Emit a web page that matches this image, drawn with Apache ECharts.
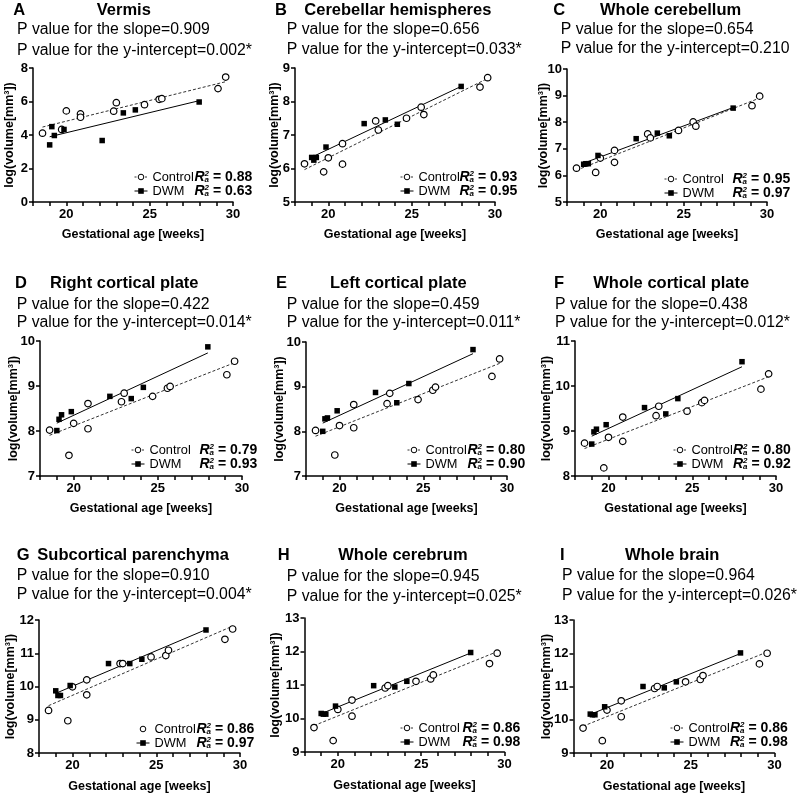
<!DOCTYPE html>
<html><head><meta charset="utf-8">
<script src="https://cdn.jsdelivr.net/npm/echarts/dist/echarts.min.js"></script>
<style>html,body{margin:0;padding:0;background:#fff}#c{width:800px;height:798px}</style>
</head><body><div id="c"></div>
<script>
// ---------- DATA ----------
const panelLetters = ['A','B','C','D','E','F','G','H','I'];
const panelTitles = ['Vermis','Cerebellar hemispheres','Whole cerebellum','Right cortical plate','Left cortical plate','Whole cortical plate','Subcortical parenchyma','Whole cerebrum','Whole brain'];
const pSlope = ['0.909','0.656','0.654','0.422','0.459','0.438','0.910','0.945','0.964'];
const pIntercept = ['0.002*','0.033*','0.210','0.014*','0.011*','0.012*','0.004*','0.025*','0.026*'];
const r2Control = ['0.88','0.93','0.95','0.79','0.80','0.80','0.86','0.86','0.86'];
const r2DWM = ['0.63','0.95','0.97','0.93','0.90','0.92','0.97','0.98','0.98'];

const ageControl = [18.57, 19.72, 20.0, 20.85, 20.85, 22.84, 23.0, 24.69, 25.57, 25.73, 29.1, 29.56];
const ageDWM = [19.0, 19.13, 19.28, 19.86, 22.15, 23.42, 24.14, 27.97];

const vermisControl = [4.11, 4.33, 5.44, 5.26, 5.06, 5.42, 5.93, 5.81, 6.13, 6.17, 6.77, 7.46];
const vermisDWM = [3.41, 4.50, 3.97, 4.33, 3.67, 5.32, 5.50, 5.97];
const cerebHemControl = [6.14, 5.90, 6.32, 6.74, 6.13, 7.42, 7.15, 7.50, 7.83, 7.61, 8.43, 8.71];
const cerebHemDWM = [6.33, 6.25, 6.33, 6.64, 7.34, 7.45, 7.32, 8.45];
const cerebellumControl = [6.27, 6.11, 6.65, 6.94, 6.49, 7.56, 7.41, 7.69, 8.01, 7.85, 8.62, 8.98];
const cerebellumDWM = [6.42, 6.44, 6.44, 6.75, 7.38, 7.59, 7.49, 8.53];
const rightCPControl = [8.02, 7.46, 8.17, 8.61, 8.05, 8.65, 8.84, 8.77, 8.95, 8.99, 9.25, 9.55];
const rightCPDWM = [8.01, 8.26, 8.36, 8.43, 8.77, 8.72, 8.97, 9.87];
const leftCPControl = [8.02, 7.47, 8.13, 8.60, 8.08, 8.62, 8.85, 8.71, 8.92, 8.99, 9.23, 9.62];
const leftCPDWM = [8.00, 8.28, 8.30, 8.46, 8.87, 8.64, 9.07, 9.83];
const wholeCPControl = [8.73, 8.18, 8.86, 9.31, 8.77, 9.34, 9.55, 9.44, 9.63, 9.68, 9.93, 10.27];
const wholeCPDWM = [8.71, 8.98, 9.04, 9.14, 9.52, 9.38, 9.72, 10.54];
const subcortControl = [9.28, 8.97, 9.99, 10.20, 9.75, 10.69, 10.69, 10.89, 10.93, 11.09, 11.42, 11.73];
const subcortDWM = [9.87, 9.73, 9.73, 10.03, 10.69, 10.69, 10.82, 11.70];
const cerebrumControl = [9.73, 9.34, 10.27, 10.55, 10.07, 10.91, 10.98, 11.11, 11.18, 11.30, 11.64, 11.95];
const cerebrumDWM = [10.15, 10.13, 10.13, 10.37, 10.98, 10.94, 11.11, 11.97];
const brainControl = [9.75, 9.37, 10.29, 10.57, 10.09, 10.94, 11.00, 11.14, 11.21, 11.33, 11.68, 12.00];
const brainDWM = [10.17, 10.15, 10.15, 10.39, 11.00, 10.96, 11.14, 12.01];

const controlSets = [vermisControl, cerebHemControl, cerebellumControl, rightCPControl, leftCPControl, wholeCPControl, subcortControl, cerebrumControl, brainControl];
const dwmSets = [vermisDWM, cerebHemDWM, cerebellumDWM, rightCPDWM, leftCPDWM, wholeCPDWM, subcortDWM, cerebrumDWM, brainDWM];

const xMin = 18, xMax = 30, xTickLabels = [20, 25, 30];
const yMins = [0, 5, 5, 7, 7, 8, 8, 9, 9];
const yMaxs = [8, 9, 10, 10, 10, 11, 12, 13, 13];
const yIntervals = [2, 1, 1, 1, 1, 1, 1, 1, 1];

// ---------- LAYOUT ----------
const gridBox = [[33,68,200,134],[295,68,200,134],[567,69,200,133],[40,341,202,135],[306,342,201,134],[575,341,201,135],[39,620,201,133],[304.5,618,200,134],[573.5,620,201,133]];
const yNameGap = [16.5, 13.5, 17, 20, 20, 22, 22, 22.5, 20];
const xNameGap = [26, 26, 26, 26, 26, 26, 27, 27, 27];
const letterX = [13.3, 275, 553.3, 15, 276, 554, 16.7, 277.7, 560];
const nameX = [96.7, 304.3, 600, 50, 330, 593.3, 37.3, 338.3, 625];
const headY = [1.5, 1.5, 1.5, 274.5, 274.5, 274.5, 546.5, 546.5, 546.5];
const pX = [17, 286.7, 560.7, 16.7, 286.7, 555, 16.7, 286.7, 562];
const pTop = [19.2, 19.5, 20, 295.3, 295.3, 295.3, 566, 567.3, 566.3];
const pLH = [20.8, 20, 19, 18, 18, 18, 19, 19.3, 19.5];
const legendBox = [[134,170,42],[400,170,41],[664,172,50],[131,443,50],[407,443,42],[673,443,41.5],[136,722,42],[400,721,44],[670,721,41.5]];

const FONT = '"Liberation Sans", Arial, Helvetica, sans-serif';

function fitLine(xs, ys) {
  const n = xs.length;
  let sx = 0, sy = 0, sxx = 0, sxy = 0;
  for (let i = 0; i < n; i++) { sx += xs[i]; sy += ys[i]; sxx += xs[i]*xs[i]; sxy += xs[i]*ys[i]; }
  const b = (n*sxy - sx*sy) / (n*sxx - sx*sx);
  const a = (sy - b*sx) / n;
  const lo = Math.min(...xs), hi = Math.max(...xs);
  return [[lo, a + b*lo], [hi, a + b*hi]];
}
const zip = (xs, ys) => xs.map((x, i) => [x, ys[i]]);

const grids = [], xAxes = [], yAxes = [], series = [], titles = [], legends = [];

for (let i = 0; i < 9; i++) {
  const g = gridBox[i];
  grids.push({ left: g[0], top: g[1], width: g[2], height: g[3], outerBoundsMode: 'none', containLabel: false });
  const axisLine = { show: true, onZero: false, lineStyle: { color: '#000', width: 1.5 } };
  const axisTick = { show: true, inside: false, length: 4, lineStyle: { color: '#000', width: 1.5 } };
  xAxes.push({
    type: 'value', gridIndex: i, min: xMin, max: xMax, interval: 1,
    axisLine, axisTick, splitLine: { show: false },
    axisLabel: { margin: 6, color: '#000', fontSize: 13, fontWeight: 'bold', fontFamily: FONT,
      formatter: v => xTickLabels.indexOf(v) >= 0 ? String(v) : '' },
    name: 'Gestational age [weeks]', nameLocation: 'middle', nameGap: xNameGap[i], nameMoveOverlap: false,
    nameTextStyle: { color: '#000', fontSize: 12.5, fontWeight: 'bold', fontFamily: FONT }
  });
  yAxes.push({
    type: 'value', gridIndex: i, min: yMins[i], max: yMaxs[i], interval: yIntervals[i],
    axisLine, axisTick, splitLine: { show: false },
    axisLabel: { margin: 5, color: '#000', fontSize: 13, fontWeight: 'bold', fontFamily: FONT },
    name: 'log(volume[mm³])', nameLocation: 'middle', nameGap: yNameGap[i], nameMoveOverlap: false,
    nameTextStyle: { color: '#000', fontSize: 12.5, fontWeight: 'bold', fontFamily: FONT }
  });

  series.push({
    type: 'line', name: 'Control', xAxisIndex: i, yAxisIndex: i,
    data: fitLine(ageControl, controlSets[i]), symbol: 'circle', showSymbol: false, silent: true, z: 2,
    lineStyle: { color: '#333', width: 1, type: [3, 2] },
    itemStyle: { color: '#fff', borderColor: '#000', borderWidth: 1 }
  });
  series.push({
    type: 'line', name: 'DWM', xAxisIndex: i, yAxisIndex: i,
    data: fitLine(ageDWM, dwmSets[i]), symbol: 'rect', showSymbol: false, silent: true, z: 2,
    lineStyle: { color: '#000', width: 1 },
    itemStyle: { color: '#000' }
  });
  series.push({
    type: 'scatter', name: 'ctrlPts', xAxisIndex: i, yAxisIndex: i,
    data: zip(ageControl, controlSets[i]), symbol: 'circle', symbolSize: 6.5, z: 3,
    itemStyle: { color: '#fff', borderColor: '#000', borderWidth: 1.2, opacity: 1 }
  });
  series.push({
    type: 'scatter', name: 'dwmPts', xAxisIndex: i, yAxisIndex: i,
    data: zip(ageDWM, dwmSets[i]), symbol: 'rect', symbolSize: 5.5, z: 4,
    itemStyle: { color: '#000', opacity: 1 }
  });

  titles.push({ text: panelLetters[i], left: letterX[i], top: headY[i], padding: 0,
    textStyle: { color: '#000', fontSize: 16.5, fontWeight: 'bold', fontFamily: FONT, lineHeight: 18 } });
  titles.push({ text: panelTitles[i], left: nameX[i], top: headY[i], padding: 0,
    textStyle: { color: '#000', fontSize: 16.5, fontWeight: 'bold', fontFamily: FONT, lineHeight: 18 } });
  titles.push({ text: 'P value for the slope=' + pSlope[i] + '\nP value for the y-intercept=' + pIntercept[i],
    left: pX[i], top: pTop[i], padding: 0,
    textStyle: { color: '#000', fontSize: 15.8, fontWeight: 'normal', fontFamily: FONT, lineHeight: pLH[i] } });

  const lb = legendBox[i];
  const rc = r2Control[i], rd = r2DWM[i];
  legends.push({
    left: lb[0], top: lb[1], orient: 'vertical', itemWidth: 13, itemHeight: 7, itemGap: 0,
    padding: 0, selectedMode: false,
    data: [
      { name: 'Control', itemStyle: { color: '#fff', borderColor: '#000', borderWidth: 1 },
        lineStyle: { color: '#333', width: i === 6 ? 0 : 1, type: [2, 1.5] } },
      { name: 'DWM', itemStyle: { color: '#000', borderColor: '#000', borderWidth: 0 },
        lineStyle: { color: '#000', width: 1, type: 'solid' } }
    ],
    formatter: name => name === 'Control'
      ? '{n|Control}{r|R}{s|2}{a|a}{v| = ' + rc + '}'
      : '{n|DWM}{r|R}{s|2}{a|a}{v| = ' + rd + '}',
    textStyle: {
      color: '#000', fontFamily: FONT, lineHeight: 14,
      rich: {
        n: { fontSize: 12.8, width: lb[2], lineHeight: 14, fontFamily: FONT, color: '#000' },
        r: { fontSize: 14, fontWeight: 'bold', fontStyle: 'italic', lineHeight: 14, fontFamily: FONT, color: '#000' },
        s: { fontSize: 8, fontWeight: 'bold', fontStyle: 'italic', lineHeight: 8, verticalAlign: 'top', width: 0, fontFamily: FONT, color: '#000' },
        a: { fontSize: 8, fontWeight: 'bold', fontStyle: 'italic', lineHeight: 8, verticalAlign: 'bottom', fontFamily: FONT, color: '#000' },
        v: { fontSize: 14, fontWeight: 'bold', lineHeight: 14, fontFamily: FONT, color: '#000' }
      }
    }
  });
}

const chart = echarts.init(document.getElementById('c'), null, { renderer: 'canvas' });
chart.setOption({
  animation: false,
  backgroundColor: '#fff',
  title: titles,
  legend: legends,
  grid: grids,
  xAxis: xAxes,
  yAxis: yAxes,
  series: series
});
</script></body></html>
